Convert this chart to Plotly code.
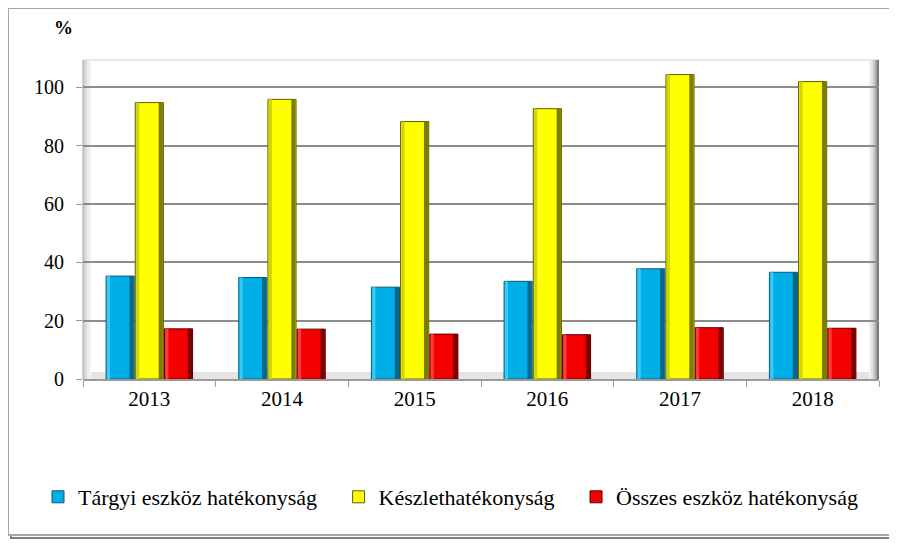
import plotly.graph_objects as go

# data
years = ["2013", "2014", "2015", "2016", "2017", "2018"]
targyi = [35.3, 34.8, 31.5, 33.5, 37.8, 36.6]
keszlet = [94.8, 95.9, 88.3, 92.7, 104.4, 102.0]
osszes = [17.2, 17.1, 15.4, 15.2, 17.6, 17.4]

series_names = ["Tárgyi eszköz hatékonyság", "Készlethatékonyság", "Összes eszköz hatékonyság"]
# main fill, light left bevel, dark right bevel, outline
series_colors = [
    ("#00AEE8", "#35CBF7", "#0B6787", "#0D5A78"),
    ("#FFFF00", "#D4D400", "#7C7C00", "#5E5E00"),
    ("#F50000", "#FF3A3A", "#7A0000", "#5C0000"),
]

FONT = "Liberation Serif, Times New Roman, serif"
PAD = "\u00a0" * 3  # extra room between legend entries

# the page body adds an 8px margin, so positions below are given in
# screenshot pixels and shifted back by 8
OFF = 8
W, H = 897, 543
L, R, T, B = 75, 26, 52, 172
pw, ph = W - L - R, H - T - B


def px_x(x):
    return (x - OFF - L) / pw


def px_y(y):
    return 1 - (y - OFF - T) / ph


bar_w = 0.212
bar_starts = [-0.326, -0.106, 0.114]
edge_l, edge_r = 0.024, 0.032

fig = go.Figure()

for i, (name, vals, cols, x0) in enumerate(zip(series_names, [targyi, keszlet, osszes],
                                                series_colors, bar_starts)):
    main, light, dark, edge = cols
    label = name + (PAD if i < len(series_names) - 1 else "")
    fig.add_trace(go.Bar(
        x=years, y=vals, name=label, offset=x0, width=bar_w,
        marker=dict(color=main, line=dict(color=edge, width=1)),
    ))
    # bevel strips
    fig.add_trace(go.Bar(
        x=years, y=vals, offset=x0 + 0.006, width=edge_l, showlegend=False, hoverinfo="skip",
        marker=dict(color=light, line=dict(width=0)),
    ))
    fig.add_trace(go.Bar(
        x=years, y=vals, offset=x0 + bar_w - edge_r - 0.004, width=edge_r, showlegend=False,
        hoverinfo="skip", marker=dict(color=dark, line=dict(width=0)),
    ))

shapes = []
# outer frame with shadow
shapes.append(dict(type="rect", xref="paper", yref="paper",
                   x0=px_x(11), x1=px_x(893), y0=px_y(538), y1=px_y(11),
                   line=dict(color="#7F7F7F", width=2), fillcolor="rgba(0,0,0,0)", layer="below"))
shapes.append(dict(type="rect", xref="paper", yref="paper",
                   x0=px_x(8), x1=px_x(890), y0=px_y(535), y1=px_y(8),
                   line=dict(color="#A6A6A6", width=2), fillcolor="white", layer="below"))
# floor
shapes.append(dict(type="rect", xref="paper", yref="y", x0=0, x1=1, y0=-0.6, y1=2.4,
                   line=dict(width=0), fillcolor="#E4E4E4", layer="below"))
# top edge of the back wall
shapes.append(dict(type="line", xref="paper", yref="paper", x0=0, x1=1, y0=1, y1=1,
                   line=dict(color="#E0E0E0", width=1.5), layer="below"))
# left wall shading
for i, c in enumerate(["#CFCFCF", "#DDDDDD", "#EAEAEA", "#F4F4F4"]):
    shapes.append(dict(type="rect", xref="paper", yref="paper",
                       x0=px_x(83 + 2 * i), x1=px_x(85 + 2 * i), y0=0, y1=1,
                       line=dict(width=0), fillcolor=c, layer="below"))
# right wall shading
for i, c in enumerate(["#F2F2F2", "#E2E2E2", "#CCCCCC", "#A8A8A8", "#7A7A7A"]):
    shapes.append(dict(type="rect", xref="paper", yref="paper",
                       x0=px_x(869 + 2 * i), x1=px_x(871 + 2 * i), y0=0, y1=1,
                       line=dict(width=0), fillcolor=c, layer="below"))
shapes.append(dict(type="line", xref="paper", yref="paper", x0=0, x1=0, y0=0, y1=1,
                   line=dict(color="#BFBFBF", width=1.5), layer="below"))

fig.update_layout(
    width=W, height=H,
    margin=dict(l=L, r=R, t=T, b=B),
    paper_bgcolor="white",
    plot_bgcolor="rgba(0,0,0,0)",
    font=dict(family=FONT, size=20, color="black"),
    barmode="overlay",
    shapes=shapes,
    showlegend=True,
    legend=dict(
        orientation="h", x=px_x(38), xanchor="left", y=px_y(497), yanchor="middle",
        font=dict(family=FONT, size=22, color="black"), bgcolor="rgba(0,0,0,0)",
        itemwidth=30, traceorder="normal",
    ),
    annotations=[dict(text="<b>%</b>", xref="paper", yref="paper",
                      x=px_x(63), y=px_y(28), showarrow=False,
                      font=dict(family=FONT, size=19, color="black"),
                      xanchor="center", yanchor="middle")],
)

fig.update_xaxes(
    showgrid=False, showline=True, linecolor="#9A9A9A", linewidth=1.5,
    ticks="outside", tickson="boundaries", ticklen=6, tickcolor="#9A9A9A",
    tickfont=dict(family=FONT, size=21, color="black"),
)
fig.update_yaxes(
    range=[0, 109.4], tickvals=[0, 20, 40, 60, 80, 100],
    showgrid=True, gridcolor="#8C8C8C", gridwidth=1.5,
    showline=False, zeroline=False,
    ticks="outside", ticklen=6, tickcolor="#9A9A9A",
    tickfont=dict(family=FONT, size=20, color="black"), ticklabelstandoff=8,
)

fig.write_html("out.html")
